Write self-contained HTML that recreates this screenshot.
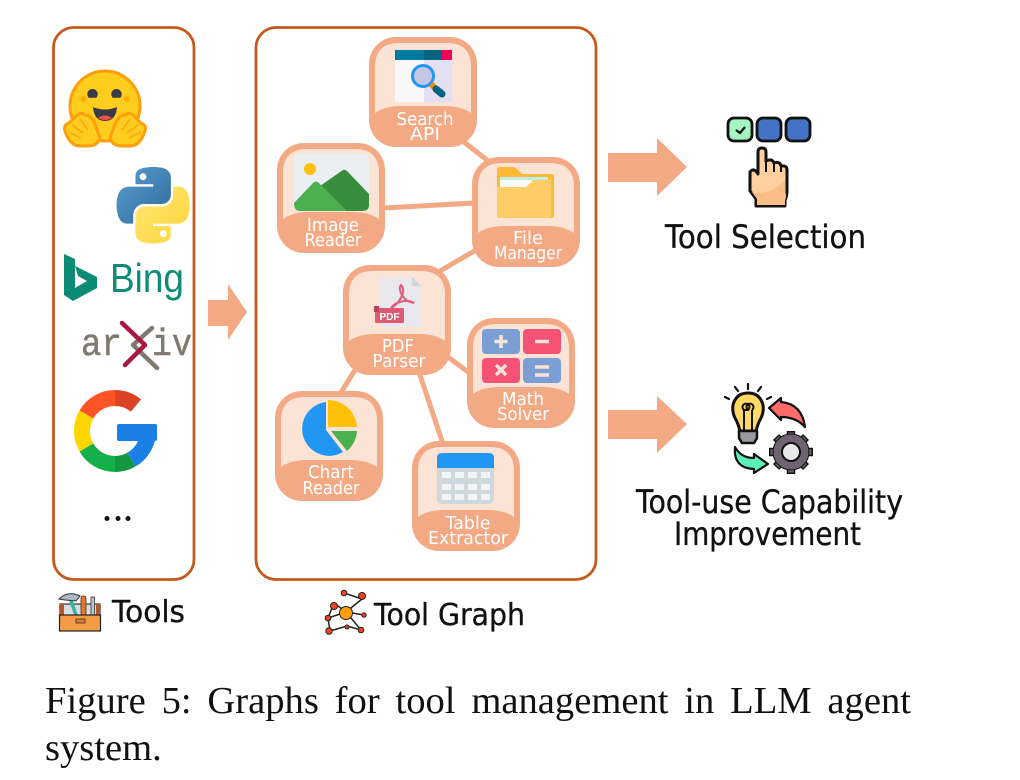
<!DOCTYPE html>
<html><head><meta charset="utf-8"><style>
html,body{margin:0;padding:0;background:#fff;width:1020px;height:780px;overflow:hidden}
svg{display:block}
.h{font-family:"DejaVu Sans",sans-serif;fill:#111;stroke:#111;stroke-width:.35}
.n{font-family:"DejaVu Sans",sans-serif;fill:#fff;font-size:18px;text-anchor:middle}
.c{font-family:"Liberation Serif",serif;fill:#111;font-size:38.600px;word-spacing:6.200px}
</style></head><body>
<svg width="1020" height="780" viewBox="0 0 1020 780" xmlns="http://www.w3.org/2000/svg">
<defs>
<g id="node">
<rect width="108" height="110" rx="27" fill="#f4a985"/>
<path d="M6 30Q6 6 30 6H78Q102 6 102 30V76Q92 69 76 69H32Q16 69 6 76Z" fill="#fbe3d6"/>
</g>
<linearGradient id="pb" x1="0" y1="0" x2="1" y2="1"><stop offset="0" stop-color="#5a9fd4"/><stop offset="1" stop-color="#306998"/></linearGradient>
<linearGradient id="py" x1="0" y1="0" x2="1" y2="1"><stop offset="0" stop-color="#ffd43b"/><stop offset="1" stop-color="#ffe873"/></linearGradient>
</defs>
<rect width="1020" height="780" fill="#fff"/>
<rect x="53.500" y="27.500" width="140.500" height="552" rx="20" fill="none" stroke="#c55a1e" stroke-width="2.800"/>
<rect x="256" y="27.500" width="340" height="552" rx="20" fill="none" stroke="#c55a1e" stroke-width="2.800"/>

<!-- Hugging face -->
<circle cx="105" cy="106" r="35" fill="#ffcd1e" stroke="#ff9d0b" stroke-width="3"/>
<path d="M89 97A4.500 4.500 0 1 1 96 97Z" fill="#3a3b45" stroke="#3a3b45" stroke-width="1.500"/>
<path d="M113 97A4.500 4.500 0 1 1 120 97Z" fill="#3a3b45" stroke="#3a3b45" stroke-width="1.500"/>
<circle cx="83.500" cy="99" r="3" fill="#ffad03"/><circle cx="127" cy="99" r="3" fill="#ffad03"/>
<path d="M93 107Q105 112 117 107Q116 121 105 121Q94 121 93 107Z" fill="#3a3b45"/>
<path d="M98 118Q105 113 112 118Q105 122 98 118Z" fill="#ef4e4e"/>
<path d="M65 131Q63 125 69 123L77 115Q82 112 85 115Q91 115 95 124L100 138Q98 146 87 146H80Q70 146 65 131Z" fill="#ffcd1e" stroke="#ff9d0b" stroke-width="3" stroke-linejoin="round"/>
<path d="M145 131Q147 125 141 123L133 115Q128 112 125 115Q119 115 115 124L110 138Q112 146 123 146H130Q140 146 145 131Z" fill="#ffcd1e" stroke="#ff9d0b" stroke-width="3" stroke-linejoin="round"/>
<path d="M72 125L83 133M69 132L81 138M80 119L88 130M138 125L127 133M141 132L129 138M130 119L122 130" stroke="#ffa90f" stroke-width="1.800" fill="none"/>

<!-- Python -->
<g transform="translate(116 167) scale(.675 .695)">
<path d="M54.900 0C50.300 0 46 .4 42.100 1.100 30.900 3.100 28.900 7.200 28.900 14.800V24.900H55.200V28.300H19C11.400 28.300 4.700 32.900 2.600 41.600 .2 51.600 .1 57.800 2.600 68.200 4.500 76 8.900 81.500 16.500 81.500H25.500V69.500C25.500 60.800 33 53.200 41.900 53.200H68.200C75.500 53.200 81.300 47.200 81.300 39.900V14.800C81.300 7.700 75.300 2.300 68.200 1.100 63.700 .4 59.100 0 54.900 0Z" fill="url(#pb)"/>
<circle cx="40" cy="14" r="5" fill="#fff"/>
<g transform="rotate(180 55 55)">
<path d="M54.900 0C50.300 0 46 .4 42.100 1.100 30.900 3.100 28.900 7.200 28.900 14.800V24.900H55.200V28.300H19C11.400 28.300 4.700 32.900 2.600 41.600 .2 51.600 .1 57.800 2.600 68.200 4.500 76 8.900 81.500 16.500 81.500H25.500V69.500C25.500 60.800 33 53.200 41.900 53.200H68.200C75.500 53.200 81.300 47.200 81.300 39.900V14.800C81.300 7.700 75.300 2.300 68.200 1.100 63.700 .4 59.100 0 54.900 0Z" fill="url(#py)"/>
<circle cx="40" cy="14" r="5" fill="#fff"/>
</g>
</g>

<!-- Bing -->
<path d="M64 254L75 259V288L87 281L78 276L75 266L97 277V288L73 301L64 295Z" fill="#0b8a74"/>
<text x="110" y="292" font-family="Liberation Sans,sans-serif" font-size="41" fill="#0f8c78" textLength="74" lengthAdjust="spacingAndGlyphs">Bing</text>

<!-- arXiv -->
<text x="81" y="355" font-family="Liberation Mono,monospace" font-size="38" fill="#7f7a70" stroke="#7f7a70" stroke-width=".5" textLength="41" lengthAdjust="spacingAndGlyphs">ar</text>
<text x="152" y="355" font-family="Liberation Mono,monospace" font-size="38" fill="#7f7a70" stroke="#7f7a70" stroke-width=".5" textLength="40" lengthAdjust="spacingAndGlyphs">iv</text>
<path d="M152 328L133 345L157 368" fill="none" stroke="#7f7a70" stroke-width="4.500" stroke-linecap="round" stroke-linejoin="round"/>
<path d="M122 323L145 345L125 365" fill="none" stroke="#a8173f" stroke-width="4.500" stroke-linecap="round" stroke-linejoin="round"/>

<!-- Google -->
<g fill="none" stroke-width="16">
<path d="M86.400 414.500A33 33 0 0 1 115 398" stroke="#ff5427"/>
<path d="M115 398A33 33 0 0 1 136 405.500" stroke="#db4325"/>
<path d="M86.400 447.500A33 33 0 0 1 86.400 414.500" stroke="#ffd500"/>
<path d="M115 464A33 33 0 0 1 86.400 447.500" stroke="#16b04a"/>
<path d="M131.500 459.600A33 33 0 0 1 115 464" stroke="#12983f"/>
<path d="M148 433A33 33 0 0 1 131.500 459.600" stroke="#1a80e5"/>
</g>
<rect x="117" y="424" width="40" height="17" rx="2" fill="#1a80e5"/>
<circle cx="107" cy="518.500" r="2.500" fill="#111"/><circle cx="118" cy="518.500" r="2.500" fill="#111"/><circle cx="128" cy="518.500" r="2.500" fill="#111"/>

<!-- Toolbox -->
<rect x="60" y="604" width="40" height="12" fill="#d9dde0" stroke="#333" stroke-width="1.200"/>
<rect x="60" y="604" width="4" height="12" fill="#b5562a"/><rect x="96" y="604" width="4" height="12" fill="#b5562a"/>
<path d="M70 598L76 615" stroke="#35b59a" stroke-width="3.500"/>
<path d="M59 599Q68 590 80 596L76 601L65 600Z" fill="#a9bac6" stroke="#333" stroke-width="1"/>
<rect x="81" y="596" width="5" height="19" rx="2" fill="#e8782b" stroke="#333" stroke-width=".8"/>
<rect x="91" y="597" width="3.500" height="18" fill="#b9c9d4" stroke="#333" stroke-width=".8"/>
<rect x="59.500" y="615" width="41" height="16" fill="#f49b45" stroke="#222" stroke-width="1.200"/>
<rect x="76" y="619" width="9" height="4" fill="#e8782b" stroke="#333" stroke-width=".8"/>
<text class="h" x="112" y="622" font-size="30" textLength="73" lengthAdjust="spacingAndGlyphs">Tools</text>

<!-- Connectors -->
<g stroke="#f4a985" stroke-width="5" fill="none">
<path d="M464 142L492 164"/>
<path d="M384 208L474 203"/>
<path d="M476 250L440 271"/>
<path d="M448 357L472 375"/>
<path d="M355 370L340 394"/>
<path d="M419 372L443 444"/>
</g>

<!-- Nodes -->
<use href="#node" x="369" y="37"/>
<use href="#node" x="277" y="143"/>
<use href="#node" x="472" y="157"/>
<use href="#node" x="343" y="265"/>
<use href="#node" x="467" y="318"/>
<use href="#node" x="275" y="391"/>
<use href="#node" x="412" y="441"/>

<text class="n" x="425" y="125" textLength="57" lengthAdjust="spacingAndGlyphs">Search</text>
<text class="n" x="425" y="140" textLength="30" lengthAdjust="spacingAndGlyphs">API</text>
<text class="n" x="333" y="231" textLength="52" lengthAdjust="spacingAndGlyphs">Image</text>
<text class="n" x="333" y="246" textLength="57" lengthAdjust="spacingAndGlyphs">Reader</text>
<text class="n" x="528" y="244" textLength="30" lengthAdjust="spacingAndGlyphs">File</text>
<text class="n" x="528" y="259" textLength="68" lengthAdjust="spacingAndGlyphs">Manager</text>
<text class="n" x="398" y="352" textLength="32" lengthAdjust="spacingAndGlyphs">PDF</text>
<text class="n" x="399" y="367" textLength="53" lengthAdjust="spacingAndGlyphs">Parser</text>
<text class="n" x="523" y="405" textLength="42" lengthAdjust="spacingAndGlyphs">Math</text>
<text class="n" x="523" y="420" textLength="52" lengthAdjust="spacingAndGlyphs">Solver</text>
<text class="n" x="331" y="478" textLength="46" lengthAdjust="spacingAndGlyphs">Chart</text>
<text class="n" x="331" y="494" textLength="57" lengthAdjust="spacingAndGlyphs">Reader</text>
<text class="n" x="468" y="529" textLength="45" lengthAdjust="spacingAndGlyphs">Table</text>
<text class="n" x="468" y="544" textLength="80" lengthAdjust="spacingAndGlyphs">Extractor</text>

<!-- Search icon -->
<rect x="395" y="50" width="29" height="52" fill="#f8f8f8"/>
<rect x="424" y="50" width="28" height="52" fill="#e3e0f3"/>
<rect x="395" y="50" width="29" height="10" fill="#007ba0"/>
<rect x="424" y="50" width="18" height="10" fill="#00637f"/>
<rect x="442" y="50" width="10" height="10" fill="#f50057"/>
<circle cx="423" cy="76" r="10.500" fill="#c5c6e4" stroke="#2196f3" stroke-width="3"/>
<path d="M431 84L436 89" stroke="#f08a10" stroke-width="6"/>
<path d="M436 89L442 94" stroke="#00637f" stroke-width="7" stroke-linecap="round"/>

<!-- Image icon -->
<rect x="294" y="154" width="75" height="57" rx="5" fill="#eceff1"/>
<circle cx="310" cy="169" r="6" fill="#ffc107"/>
<path d="M343 170Q345 169 348 172L369 194V205Q369 211 362 211H345L320 186Z" fill="#388e3c"/>
<path d="M294 203L313 183Q316 180 319 183L347 211H300Q294 211 294 203Z" fill="#4caf50"/>

<!-- Folder icon -->
<path d="M497 170Q497 167 500 167H512Q516 167 518 170L522 174H551Q554 174 554 177V215Q554 218 551 218H500Q497 218 497 215Z" fill="#ffb933"/>
<rect x="500" y="177" width="48" height="12" fill="#fff"/>
<rect x="500" y="177" width="48" height="3" fill="#bfeef0"/>
<path d="M497 187H526L533 180H551V218H500Q497 218 497 215Z" fill="#ffcc66"/>

<!-- PDF icon -->
<path d="M380 277H412L421 286V327H380Z" fill="#e8e8ee"/>
<path d="M412 277L421 286H412Z" fill="#d3d3da"/>
<path d="M391 308C399 304 407 291 401 285C397 290 404 302 414 303C408 299 396 301 391 308Z" fill="none" stroke="#e05a78" stroke-width="2"/>
<rect x="375" y="308" width="29" height="15" rx="1.500" fill="#dc5a72"/>
<rect x="374" y="306" width="5" height="6" fill="#b8405a"/>
<text x="389.500" y="320" font-family="Liberation Sans,sans-serif" font-weight="bold" font-size="10" fill="#fff" text-anchor="middle">PDF</text>

<!-- Math icon -->
<rect x="482" y="329" width="38" height="25" rx="4" fill="#7b9fd4"/>
<rect x="523" y="329" width="38" height="25" rx="4" fill="#f45277"/>
<rect x="482" y="358" width="38" height="25" rx="4" fill="#f45277"/>
<rect x="523" y="358" width="38" height="25" rx="4" fill="#7b9fd4"/>
<path d="M501 335V348M494.500 341.500H507.500M535 341.500H549M496 365L506 375M506 365L496 375M535 367H549M535 375H549" stroke="#fbe3d6" stroke-width="3.500" fill="none"/>

<!-- Pie icon -->
<path d="M326 402V430L343 452A27 27 0 1 1 326 402Z" fill="#2196f3"/>
<path d="M328 400A29 29 0 0 1 357 427H328Z" fill="#ffc107"/>
<path d="M331 431H357A29 29 0 0 1 347 451Z" fill="#4caf50"/>

<!-- Table icon -->
<rect x="437" y="453" width="57" height="51" rx="5" fill="#cfd8dc"/>
<path d="M437 468V458Q437 453 442 453H489Q494 453 494 458V468Z" fill="#2196f3"/>
<g fill="#f2f4f5">
<rect x="442" y="472" width="9" height="6"/><rect x="455" y="472" width="9" height="6"/><rect x="468" y="472" width="9" height="6"/><rect x="481" y="472" width="9" height="6"/>
<rect x="442" y="484" width="9" height="6"/><rect x="455" y="484" width="9" height="6"/><rect x="468" y="484" width="9" height="6"/><rect x="481" y="484" width="9" height="6"/>
<rect x="442" y="494" width="9" height="6"/><rect x="455" y="494" width="9" height="6"/><rect x="468" y="494" width="9" height="6"/><rect x="481" y="494" width="9" height="6"/>
</g>

<!-- Graph icon -->
<g stroke="#222" stroke-width="1.500" fill="none">
<path d="M346 612L334 603M346 612L362 599L344 593M346 612L328 618L330 631M346 612L361 630L347 626L330 631M346 612L364 615M334 603L328 618"/>
</g>
<g stroke="#222" stroke-width="1" fill="#f4431f">
<circle cx="344" cy="593" r="2.800"/><circle cx="362" cy="596" r="3.500"/><circle cx="334" cy="606" r="3.500"/><circle cx="364" cy="615" r="2.200"/><circle cx="328" cy="618" r="2.800"/><circle cx="329" cy="631" r="3.200"/><circle cx="347" cy="627" r="2"/><circle cx="361" cy="630" r="2.800"/>
</g>
<circle cx="346" cy="613" r="6.500" fill="#ff9d0b" stroke="#222" stroke-width="1"/>
<text class="h" x="374" y="625" font-size="30" textLength="151" lengthAdjust="spacingAndGlyphs">Tool Graph</text>

<!-- Arrows -->
<path d="M208 300H228V284L247 312L228 340V326H208Z" fill="#f4a985"/>
<path d="M608 153H657V138L687 167L657 196V182H608Z" fill="#f4a985"/>
<path d="M608 410H657V396L687 424L657 453V439H608Z" fill="#f4a985"/>

<!-- Tool Selection icon -->
<rect x="728" y="118" width="24" height="23" rx="6" fill="#a5f5c0" stroke="#111" stroke-width="2.800"/>
<rect x="757" y="118" width="24" height="23" rx="6" fill="#4472c4" stroke="#111" stroke-width="2.800"/>
<rect x="786" y="118" width="24" height="23" rx="6" fill="#4472c4" stroke="#111" stroke-width="2.800"/>
<path d="M736 130L740 133L745 127" fill="none" stroke="#111" stroke-width="2.200"/>
<path d="M758 174V152Q758 148 762 148Q766 148 766 152V161Q772 158 774 163Q780 161 781 166Q787 165 787 170V190Q787 197 785 200V206H756V199L750 191V172Q754 167 758 174Z" fill="#ffcf9e" stroke="#111" stroke-width="3" stroke-linejoin="round"/>
<path d="M752 192Q772 196 785 180V190Q787 197 785 200V205H757V199Z" fill="#f9bd85"/>
<path d="M774 163V172M781 166V172M766 161V172" stroke="#111" stroke-width="2" fill="none"/>

<text class="h" x="665" y="248" font-size="32" textLength="201" lengthAdjust="spacingAndGlyphs">Tool Selection</text>

<!-- Improvement icon -->
<path d="M740 431Q738 423 735 418Q732 412 733 405Q736 393 748 393Q760 393 763 405Q764 412 761 418Q758 423 756 431Z" fill="#ffd966" stroke="#111" stroke-width="3"/>
<path d="M744 431V410M752 431V410M744 410A3.500 3.500 0 1 1 748 410H744M752 410A3.500 3.500 0 1 0 748 410" fill="none" stroke="#111" stroke-width="2"/>
<path d="M739 431H757V438L754 443H742L739 438Z" fill="#9a9aa0" stroke="#111" stroke-width="2.500"/>
<path d="M748 384V389M735 387L738 391M761 387L758 391M725 397L729 399M771 397L767 399" stroke="#111" stroke-width="2.200" stroke-linecap="round"/>
<path d="M769 408L781 398V402Q802 404 805 427Q796 417 781 417V420Z" fill="#ff6b6b" stroke="#111" stroke-width="2.200" stroke-linejoin="round"/>
<path d="M735 447Q741 458 754 458V454L768 464L754 473V469Q733 468 735 447Z" fill="#5cf0b8" stroke="#111" stroke-width="2.200" stroke-linejoin="round"/>
<path d="M791 431V474M769 452H813M776 437L806 467M806 437L776 467" stroke="#111" stroke-width="8.500"/>
<path d="M791 432.500V472.500M770.500 452H811.500M777 438L805 466M805 438L777 466" stroke="#6f6570" stroke-width="5.500"/>
<circle cx="791" cy="452" r="18" fill="#6f6570" stroke="#111" stroke-width="1"/>
<circle cx="791" cy="452" r="9" fill="#e8e8ec" stroke="#111" stroke-width="2"/>

<text class="h" x="636" y="513" font-size="32" textLength="267" lengthAdjust="spacingAndGlyphs">Tool-use Capability</text>
<text class="h" x="674" y="545" font-size="32" textLength="187" lengthAdjust="spacingAndGlyphs">Improvement</text>

<!-- Caption -->
<text class="c" x="45" y="713">Figure 5: Graphs for tool management in LLM agent</text>
<text class="c" x="45" y="760">system.</text>
</svg>
</body></html>
